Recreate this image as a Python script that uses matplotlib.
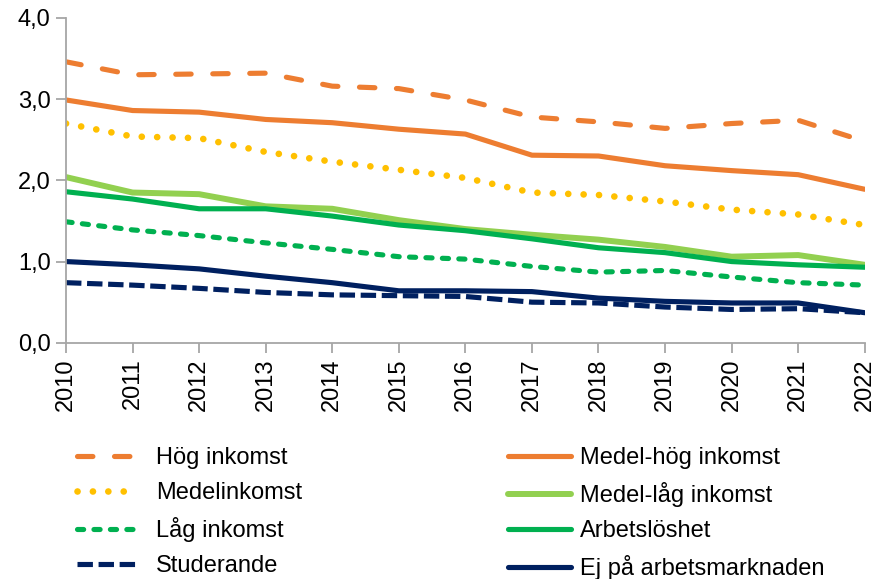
import numpy as np
import matplotlib
matplotlib.use("Agg")
import matplotlib.pyplot as plt
from matplotlib.ticker import FuncFormatter

plt.rcParams['font.family'] = ['Liberation Sans', 'DejaVu Sans']

years = list(range(2010, 2023))

hog = [3.46, 3.30, 3.31, 3.32, 3.16, 3.13, 2.99, 2.78, 2.72, 2.64, 2.70, 2.74, 2.48]
medel_hog = [2.99, 2.86, 2.84, 2.75, 2.71, 2.63, 2.57, 2.31, 2.30, 2.18, 2.12, 2.07, 1.89]
medel = [2.70, 2.54, 2.52, 2.35, 2.23, 2.13, 2.03, 1.85, 1.82, 1.74, 1.64, 1.58, 1.45]
medel_lag = [2.04, 1.85, 1.83, 1.68, 1.65, 1.51, 1.40, 1.33, 1.27, 1.18, 1.06, 1.08, 0.96]
arbetsloshet = [1.86, 1.77, 1.65, 1.65, 1.56, 1.45, 1.38, 1.28, 1.17, 1.11, 1.00, 0.96, 0.93]
lag = [1.49, 1.39, 1.32, 1.23, 1.15, 1.06, 1.03, 0.94, 0.87, 0.89, 0.81, 0.74, 0.71]
ej_arb = [1.00, 0.96, 0.91, 0.82, 0.74, 0.64, 0.64, 0.63, 0.55, 0.51, 0.49, 0.49, 0.37]
studerande = [0.74, 0.71, 0.67, 0.62, 0.59, 0.58, 0.57, 0.50, 0.49, 0.44, 0.41, 0.42, 0.37]

orange = '#ED7D31'
yellow = '#FFC000'
lgreen = '#92D050'
green = '#00B050'
navy = '#002060'

fig = plt.figure(figsize=(8.86, 5.79), dpi=100)
ax = fig.add_axes([0.0745, 0.408, 0.9015, 0.561])

lw = 3.7
l_studer, = ax.plot(years, studerande, color=navy, lw=lw, dashes=(3, 1.1), dash_capstyle='butt')
l_ej, = ax.plot(years, ej_arb, color=navy, lw=lw, solid_capstyle='round')
l_lag, = ax.plot(years, lag, color=green, lw=lw, dashes=(1.2, 2.0), dash_capstyle='round')
l_ml, = ax.plot(years, medel_lag, color=lgreen, lw=4.3, solid_capstyle='round')
l_arb, = ax.plot(years, arbetsloshet, color=green, lw=lw, solid_capstyle='round')
l_medel, = ax.plot(years, medel, color=yellow, lw=4.8, dashes=(0.01, 2.3), dash_capstyle='round')
l_mh, = ax.plot(years, medel_hog, color=orange, lw=lw, solid_capstyle='round')
l_hog, = ax.plot(years, hog, color=orange, lw=lw, dashes=(3, 4.2), dash_capstyle='round')

ax.set_xlim(2010, 2022)
ax.set_ylim(0, 4)
ax.set_yticks([0, 1, 2, 3, 4])
ax.yaxis.set_major_formatter(FuncFormatter(lambda v, p: f"{v:.1f}".replace('.', ',')))
ax.set_xticks(years)
ax.set_xticklabels([str(y) for y in years], rotation=90)

for s in ['top', 'right']:
    ax.spines[s].set_visible(False)
for s in ['left', 'bottom']:
    ax.spines[s].set_color('#A6A6A6')
    ax.spines[s].set_linewidth(1.3)
ax.tick_params(axis='both', colors='#A6A6A6', length=7, width=1.3, labelsize=17, labelcolor='black')
ax.tick_params(axis='y', pad=4)
ax.tick_params(axis='x', pad=4)

leg1 = fig.legend([l_hog, l_medel, l_lag, l_studer],
                  ['Hög inkomst', 'Medelinkomst', 'Låg inkomst', 'Studerande'],
                  loc='upper left', bbox_to_anchor=(0.087, 0.228), frameon=False,
                  fontsize=17, handlelength=2.5, handletextpad=0.85, labelspacing=0.55,
                  borderpad=0, borderaxespad=0)
leg2 = fig.legend([l_mh, l_ml, l_arb, l_ej],
                  ['Medel-hög inkomst', 'Medel-låg inkomst', 'Arbetslöshet', 'Ej på arbetsmarknaden'],
                  loc='upper left', bbox_to_anchor=(0.573, 0.228), frameon=False,
                  fontsize=17, handlelength=2.7, handletextpad=0.35, labelspacing=0.55,
                  borderpad=0, borderaxespad=0)

fig.savefig('out.png', dpi=100)
